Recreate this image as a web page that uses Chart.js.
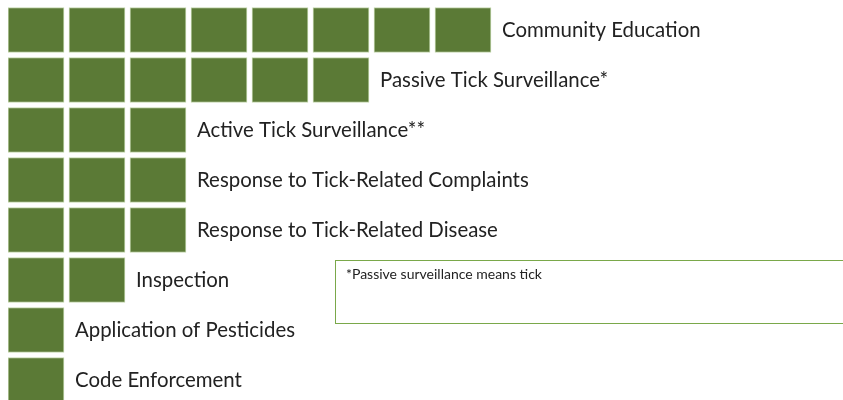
<!DOCTYPE html>
<html>
<head>
<meta charset="utf-8">
<script src="https://cdn.jsdelivr.net/npm/chart.js@4"></script>
<style>
  html, body { margin: 0; padding: 0; background: #fff; overflow: hidden; }
  #wrap { position: relative; width: 843px; height: 405px; }
  #note {
    position: absolute; left: 335px; top: 260px; width: 540px; height: 64px;
    border: 1px solid #7aa84a; box-sizing: border-box;
    font-family: Lato, 'Noto Sans', sans-serif; font-size: 14px; color: #222;
    padding: 4px 0 0 10px;
  }
</style>
</head>
<body>
<div id="wrap">
  <canvas id="myChart"></canvas>
  <div id="note">*Passive surveillance means tick</div>
</div>
<script>
'use strict';

// activities and how many squares each one gets
const activities = [
  'Community Education',
  'Passive Tick Surveillance*',
  'Active Tick Surveillance**',
  'Response to Tick-Related Complaints',
  'Response to Tick-Related Disease',
  'Inspection',
  'Application of Pesticides',
  'Code Enforcement'
];
const counts = [8, 6, 3, 3, 3, 2, 1, 1];

const squareColor = '#5b7a36';
const edgeColor = '#c3d6ae';

// one dataset per column of squares, floating bars [col, col + width]
let maxCount = Math.max(...counts);
let datasets = [];
for (let col = 0; col < maxCount; col++) {
  datasets.push({
    data: counts.map(c => (c > col ? [col, col + 0.918] : null)),
    backgroundColor: squareColor,
    borderColor: edgeColor,
    borderWidth: 1,
    borderSkipped: false,
    barThickness: 45,
    grouped: false
  });
}

// write the activity name after the last square of each row
const rowLabels = {
  id: 'rowLabels',
  afterDatasetsDraw(chart) {
    let ctx = chart.ctx;
    ctx.save();
    ctx.font = '20.4px Lato, "Noto Sans", sans-serif';
    ctx.fillStyle = '#222';
    ctx.textBaseline = 'middle';
    ctx.textAlign = 'left';
    activities.forEach((name, i) => {
      let meta = chart.getDatasetMeta(counts[i] - 1);
      let bar = meta.data[i];
      ctx.fillText(name, bar.x + 11, bar.y);
    });
    ctx.restore();
  }
};

let ctx = document.getElementById('myChart').getContext('2d');
let myChart = new Chart(ctx, {
  type: 'bar',
  data: { labels: activities, datasets: datasets },
  options: {
    indexAxis: 'y',
    responsive: true,
    maintainAspectRatio: false,
    animation: false,
    layout: { padding: { left: 8, top: 5, right: 0, bottom: 0 } },
    plugins: { legend: { display: false }, tooltip: { enabled: false } },
    scales: {
      x: { display: false, min: 0, max: 835 / 61 },
      y: { display: false, offset: true }
    }
  },
  plugins: [rowLabels]
});
</script>
</body>
</html>
